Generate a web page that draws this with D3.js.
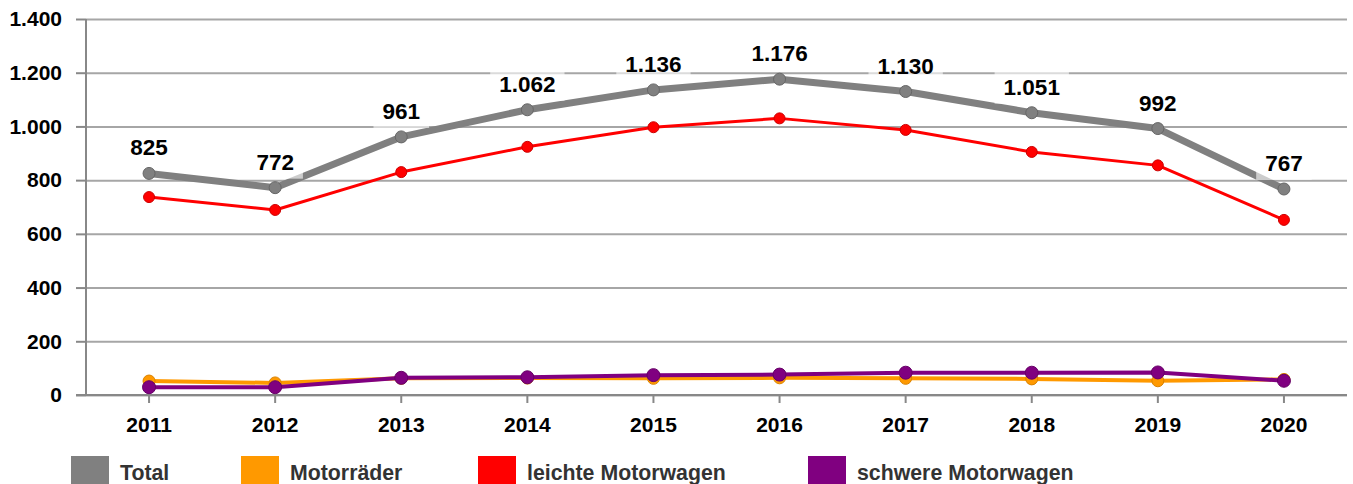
<!DOCTYPE html>
<html>
<head>
<meta charset="utf-8">
<script src="https://cdn.jsdelivr.net/npm/d3@7"></script>
<style>
  body { margin: 0; background: #fff; }
  svg { display: block; font-family: "Liberation Sans", Arial, sans-serif; }
</style>
</head>
<body>
<svg id="chart"></svg>
<script>
// Data
const years = ['2011', '2012', '2013', '2014', '2015', '2016', '2017', '2018', '2019', '2020'];
const total = [825, 772, 961, 1062, 1136, 1176, 1130, 1051, 992, 767];
const motorraeder = [52, 45, 62, 63, 62, 64, 62, 60, 53, 58];
const leichte = [737, 689, 830, 924, 997, 1030, 987, 905, 855, 652];
const schwere = [29, 29, 64, 66, 74, 76, 83, 83, 84, 53];
const yTicks = [0, 200, 400, 600, 800, 1000, 1200, 1400];

const series = [
  {name: 'Total', values: total, color: '#808080', stroke: '#666', width: 7, r: 6},
  {name: 'Motorräder', values: motorraeder, color: '#ff9900', stroke: '#d98200', width: 4, r: 6},
  {name: 'leichte Motorwagen', values: leichte, color: '#ff0000', stroke: '#cc0000', width: 3, r: 5.5},
  {name: 'schwere Motorwagen', values: schwere, color: '#800080', stroke: '#660066', width: 4, r: 6.5}
];

const width = 1353, height = 484;
const margin = {top: 19, right: 6, bottom: 89, left: 86};

const svg = d3.select('#chart')
    .attr('width', width)
    .attr('height', height);

const x = d3.scaleBand()
    .domain(years)
    .range([margin.left, width - margin.right]);

const y = d3.scaleLinear()
    .domain([0, 1400])
    .range([height - margin.bottom, margin.top]);

const fmt = v => d3.format(',')(v).replace(/,/g, '.');
const cx = d => x(d) + x.bandwidth() / 2;

// Gridlines + y axis
const yAxis = d3.axisLeft(y)
    .tickValues(yTicks)
    .tickFormat(fmt)
    .tickSize(-(width - margin.right - margin.left))
    .tickPadding(24);

const yG = svg.append('g')
    .attr('transform', `translate(${margin.left},0)`)
    .call(yAxis);
yG.select('.domain').remove();
yG.selectAll('.tick line')
    .attr('stroke', '#a6a6a6')
    .attr('stroke-width', 2);
yG.selectAll('.tick text')
    .attr('fill', '#000')
    .attr('font-size', 21)
    .attr('font-weight', 'bold');
// small outward tick stubs on the left
yG.selectAll('.tick').append('line')
    .attr('x1', -10).attr('x2', 0)
    .attr('stroke', '#888').attr('stroke-width', 2);

svg.append('line')
    .attr('x1', margin.left).attr('x2', margin.left)
    .attr('y1', y(1400)).attr('y2', y(0))
    .attr('stroke', '#888').attr('stroke-width', 2);

// x axis
const xAxis = d3.axisBottom(x)
    .tickSize(8)
    .tickPadding(14);
const xG = svg.append('g')
    .attr('transform', `translate(0,${y(0)})`)
    .call(xAxis);
xG.select('.domain').remove();
xG.selectAll('.tick line').attr('stroke', '#888').attr('stroke-width', 2);
xG.selectAll('.tick text')
    .attr('fill', '#000')
    .attr('font-size', 21)
    .attr('font-weight', 'bold');
svg.append('line')
    .attr('x1', margin.left - 10).attr('x2', width - margin.right)
    .attr('y1', y(0)).attr('y2', y(0))
    .attr('stroke', '#888').attr('stroke-width', 2);

// Lines and markers
const line = d3.line()
    .x((d, i) => cx(years[i]))
    .y(d => y(d));

series.forEach(s => {
  const g = svg.append('g');
  g.append('path')
      .datum(s.values)
      .attr('fill', 'none')
      .attr('stroke', s.color)
      .attr('stroke-width', s.width)
      .attr('stroke-linejoin', 'round')
      .attr('d', line);
  g.selectAll('circle')
      .data(s.values)
      .join('circle')
      .attr('cx', (d, i) => cx(years[i]))
      .attr('cy', d => y(d))
      .attr('r', s.r)
      .attr('fill', s.color)
      .attr('stroke', s.stroke)
      .attr('stroke-width', 1);
});

// Data labels for Total with translucent white box
const labels = svg.append('g');
total.forEach((v, i) => {
  const lg = labels.append('g')
      .attr('transform', `translate(${cx(years[i])},${y(v) - 18})`);
  const t = lg.append('text')
      .attr('text-anchor', 'middle')
      .attr('font-size', 22.5)
      .attr('font-weight', 'bold')
      .attr('fill', '#000')
      .text(fmt(v));
  const bb = t.node().getBBox();
  lg.insert('rect', 'text')
      .attr('x', bb.x - 9)
      .attr('y', -23)
      .attr('width', bb.width + 18)
      .attr('height', 32)
      .attr('fill', '#fff')
      .attr('opacity', 0.6);
});

// Legend
const legendX = [71, 241, 478, 808];
const legend = svg.append('g');
series.forEach((s, i) => {
  legend.append('rect')
      .attr('x', legendX[i])
      .attr('y', 456)
      .attr('width', 38)
      .attr('height', 30)
      .attr('fill', s.color);
  legend.append('text')
      .attr('x', legendX[i] + 49)
      .attr('y', 480)
      .attr('font-size', 21.3)
      .attr('font-weight', 'bold')
      .attr('fill', '#333')
      .text(s.name);
});
</script>
</body>
</html>
